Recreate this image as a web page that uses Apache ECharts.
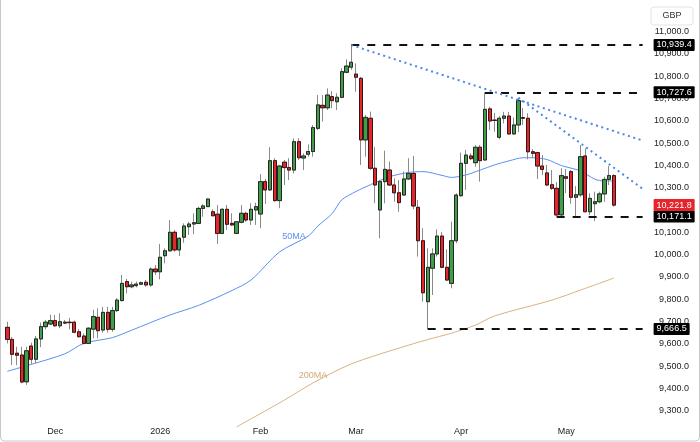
<!DOCTYPE html>
<html><head><meta charset="utf-8">
<script src="https://cdn.jsdelivr.net/npm/echarts@6/dist/echarts.min.js"></script>
<style>html,body{margin:0;padding:0;background:#fff}#c{width:700px;height:442px}</style>
</head><body><div id="c"></div>
<script>
// ---- data ----
const categories = Array.from({length: 134}, (_, i) => i);
const tickIdx  = [10, 32, 53, 73, 95, 117];
const tickText = ['Dec', '2026', 'Feb', 'Mar', 'Apr', 'May'];
const yTicks = [9300,9400,9500,9600,9700,9800,9900,10000,10100,10200,10300,10400,10500,10600,10700,10800,10900,11000];

const open  = [9674,9620,9558,9550,9430,9590,9531,9622,9677,9689,9704,9681,9697,9697,9697,9654,9635,9602,9666,9719,9662,9741,9665,9749,9794,9879,9856,9861,9867,9876,9864,9935,9923,9995,10017,10100,10021,10078,10125,10137,10140,10207,10215,10192,10181,10095,10203,10140,10095,10145,10185,10155,10200,10182,10327,10290,10421,10242,10414,10390,10379,10506,10433,10450,10462,10566,10669,10658,10708,10685,10705,10817,10840,10809,10790,10514,10611,10387,10200,10327,10379,10312,10277,10267,10339,10364,10212,10062,9789,9939,10003,10083,9943,9871,10062,10264,10409,10442,10412,10481,10424,10653,10603,10526,10611,10621,10541,10581,10614,10611,10461,10457,10397,10366,10313,10297,10178,10349,10372,10257,10268,10442,10192,10228,10237,10272,10337,10354];
const high  = [9699,9631,9587,9587,9587,9605,9635,9695,9707,9731,9729,9737,9707,9716,9704,9666,9647,9674,9752,9759,9766,9766,9766,9805,9909,9891,9879,9879,9879,9886,9943,9953,10048,10028,10155,10110,10078,10140,10147,10185,10215,10227,10252,10203,10222,10207,10222,10185,10150,10222,10192,10230,10233,10361,10339,10481,10432,10402,10424,10432,10521,10521,10454,10494,10581,10715,10715,10745,10733,10723,10835,10875,10939.4,10857,10797,10626,10641,10481,10334,10466,10417,10342,10334,10372,10432,10442,10245,10118,10028,10028,10113,10101,10024,10147,10275,10457,10469,10454,10491,10491,10727.6,10663,10635,10621,10640,10640,10615,10703,10657,10633,10473,10461,10446,10402,10379,10325,10387,10384,10379,10307,10491,10476,10275,10282,10282,10349,10397,10360];
const low   = [9602,9505,9505,9423,9416,9510,9513,9585,9665,9684,9677,9670,9689,9665,9647,9629,9598,9602,9625,9625,9650,9650,9654,9743,9789,9826,9849,9853,9864,9856,9856,9909,9889,9961,10013,10013,9994,10053,10088,10092,10137,10170,10215,10173,10048,10092,10110,10128,10092,10140,10147,10133,10133,10118,10227,10286,10237,10208,10312,10334,10364,10424,10379,10439,10439,10558,10596,10648,10656,10648,10701,10813,10828,10730,10402,10439,10380,10230,10073,10230,10307,10237,10192,10263,10334,10203,9991,9789,9666.5,9819,9991,9939,9883,9849,10051,10259,10290,10424,10394,10327,10421,10558,10551,10517,10588,10536,10536,10548,10581,10427,10433,10339,10357,10307,10290,10171.1,10173,10276,10228,10165,10259,10191,10177,10150,10230,10237,10312,10215];
const close = [9620,9553,9549,9429,9569,9531,9622,9677,9697,9704,9681,9699,9693,9695,9652,9632,9602,9670,9722,9659,9741,9665,9749,9796,9871,9856,9864,9868,9874,9864,9935,9923,9988,10017,10100,10021,10073,10128,10137,10143,10207,10218,10249,10174,10095,10203,10136,10133,10147,10185,10155,10203,10215,10327,10290,10421,10242,10397,10390,10379,10506,10434,10442,10462,10569,10671,10658,10715,10690,10705,10820,10845,10862,10795,10514,10615,10387,10312,10327,10382,10312,10277,10233,10339,10364,10218,10062,9829,9943,10003,10083,9943,9886,10062,10267,10409,10446,10430,10481,10421,10651,10599,10601,10611,10621,10541,10581,10690,10611,10461,10454,10397,10382,10312,10297,10178,10354,10342,10257,10268,10439,10192,10252,10237,10272,10337,10354,10221.8];

// moving averages at sample points (candle index, value)
const ma50Idx  = [0,5,12,16,22,26,34,40,47,51,57,63,65,68,70,73,76,80,84,87,91,93,96,99,102,105,108,110,113,116,120,123,125,127];
const ma50Val  = [9477,9508,9555,9602,9628,9661,9729,9772,9839,9886,10012,10083,10128,10184,10245,10283,10313,10349,10368,10372,10355,10346,10357,10379,10402,10420,10434,10434,10426,10399,10375,10338,10330,10330];
const ma200Idx = [48,58,64,72,82,88,93,98,102,114,120,127];
const ma200Val = [9228,9348,9425,9510,9581,9619,9648,9684,9725,9796,9841,9895];

// drawn price levels (start candle, value) and trendlines
const levelIdx = [72, 100, 115, 88];
const levelVal = [10939.4, 10727.6, 10171.1, 9666.5];
const trendFrom = [[72, 10939.4], [107, 10703]];
const trendTo   = [[133, 10511], [133, 10295]];
const lastPrice = 10221.8;

// ---- chart ----
const FONT = "'Liberation Sans', Arial, sans-serif";
const fmt = v => Number(v).toLocaleString('en-US', {minimumFractionDigits: 1, maximumFractionDigits: 1});
const chart = echarts.init(document.getElementById('c'), null, {renderer: 'canvas'});

const full = open.map((o, i) => [o, close[i], low[i], high[i]]);
const bodies = open.map((o, i) => [o, close[i], Math.min(o, close[i]), Math.max(o, close[i])]);

const levelLabel = (bg, v) => ({
  show: true, position: 'end', distance: 11, formatter: fmt(v),
  backgroundColor: bg, color: '#fff', fontSize: 9, fontFamily: FONT,
  padding: [2, 3, 1, 3], borderRadius: 1
});

const markLevels = levelIdx.map((s, k) => [
  {coord: [s, levelVal[k]], label: levelLabel('#000', levelVal[k])},
  {coord: [133, levelVal[k]]}
]);
const markTrends = trendFrom.map((f, k) => [
  {coord: f, lineStyle: {color: '#4f86ea', width: 2, type: [2, 3.6]}, label: {show: false}},
  {coord: trendTo[k]}
]);
const markLast = [[
  {coord: [127, lastPrice], lineStyle: {color: 'rgba(0,0,0,0)', width: 1}, label: levelLabel('#e5252b', lastPrice)},
  {coord: [133, lastPrice]}
]];

chart.setOption({
  animation: false,
  backgroundColor: '#fff',
  grid: {left: 5, right: 55, top: 0, bottom: 15, containLabel: false},
  xAxis: {
    type: 'category', data: categories, boundaryGap: true,
    axisLine: {show: false}, axisTick: {show: false}, splitLine: {show: false},
    axisLabel: {
      interval: i => tickIdx.indexOf(i) >= 0,
      formatter: (v, i) => { const k = tickIdx.indexOf(Number(v)); return k >= 0 ? tickText[k] : ''; },
      color: '#222', fontSize: 9, fontFamily: FONT, margin: 0
    }
  },
  yAxis: {
    type: 'value', position: 'right', min: 9227.3, max: 11141.1, scale: true,
    axisLine: {show: false}, axisTick: {show: false}, splitLine: {show: false},
    axisLabel: {
      customValues: yTicks, formatter: v => fmt(v), align: 'right', margin: 44,
      color: '#222', fontSize: 9, fontFamily: FONT, hideOverlap: false
    }
  },
  series: [
    {
      type: 'candlestick', data: full, barWidth: 3.8, z: 3,
      itemStyle: {color: '#3f9f49', color0: '#e1292d', borderColor: '#8a8a8a', borderColor0: '#8a8a8a', borderWidth: 1}
    },
    {
      type: 'candlestick', data: bodies, barWidth: 3.8, z: 4,
      itemStyle: {color: '#3f9f49', color0: '#e1292d', borderColor: '#262626', borderColor0: '#3a1414', borderWidth: 1},
      markLine: {
        silent: true, symbol: ['none', 'none'], animation: false,
        lineStyle: {color: '#111', width: 2, type: [8, 8]},
        data: markLevels.concat(markTrends, markLast)
      }
    },
    {
      type: 'line', name: '50MA', data: ma50Idx.map((i, k) => [i, ma50Val[k]]),
      showSymbol: false, smooth: 0.3, z: 2, lineStyle: {color: '#5b8ff0', width: 1},
      markPoint: {
        symbol: 'circle', symbolSize: 0, silent: true,
        data: [{coord: [60, 10081], label: {show: true, position: 'inside', formatter: '50MA', color: '#5b8ff0', fontSize: 9, fontFamily: FONT}}]
      }
    },
    {
      type: 'line', name: '200MA', data: ma200Idx.map((i, k) => [i, ma200Val[k]]),
      showSymbol: false, smooth: 0.3, z: 2, lineStyle: {color: '#d9b283', width: 1},
      markPoint: {
        symbol: 'circle', symbolSize: 0, silent: true,
        data: [{coord: [64, 9456], label: {show: true, position: 'inside', formatter: '200MA', color: '#d4a872', fontSize: 9, fontFamily: FONT}}]
      }
    }
  ],
  graphic: [
    {type: 'rect', shape: {x: 0.5, y: -5, width: 699, height: 446, r: 4}, style: {fill: 'none', stroke: '#c8c8c8', lineWidth: 1}, silent: true, z: 100},
    {type: 'rect', shape: {x: 651, y: 7, width: 42, height: 18, r: 3}, style: {fill: '#fff', stroke: '#e0e3eb', lineWidth: 1}, z: 101},
    {type: 'text', x: 672, y: 16, style: {text: 'GBP', fill: '#333', fontSize: 9, fontFamily: FONT, align: 'center', verticalAlign: 'middle'}, z: 102}
  ]
});
</script>
</body></html>
